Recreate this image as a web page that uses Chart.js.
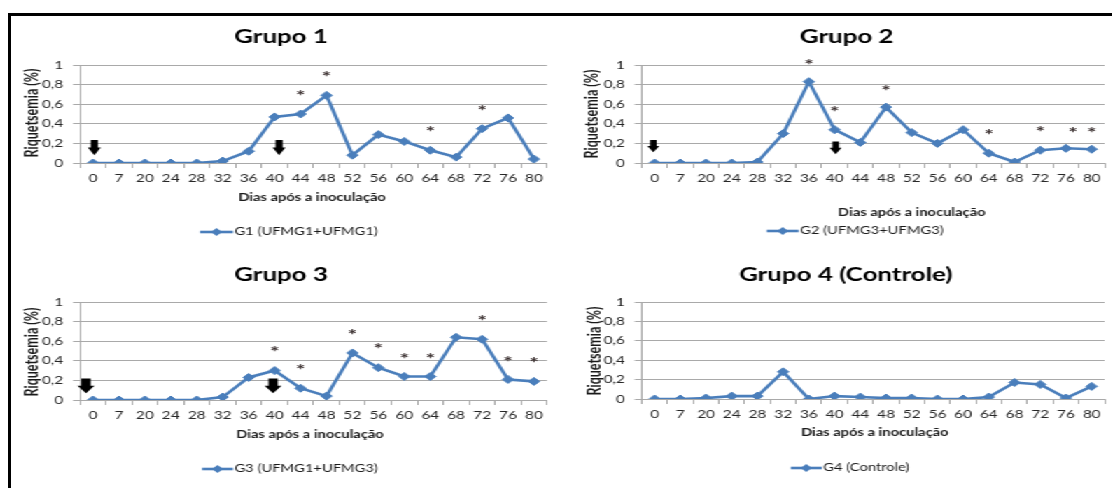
<!DOCTYPE html>
<html>
<head>
<meta charset="utf-8">
<script src="https://cdn.jsdelivr.net/npm/chart.js@4.4.1/dist/chart.umd.min.js"></script>
<style>
  html, body { margin: 0; padding: 0; background: #fff; }
  #page { position: relative; width: 1112px; height: 488px; overflow: hidden; background: #fff; }
  #frame { position: absolute; left: 8px; top: 13px; width: 1120px; height: 490px;
           border-top: 3px solid #000; border-left: 3px solid #000; }
  /* the figure is laid out narrow and widened horizontally as a whole */
  #stage { position: absolute; left: 0; top: 0; height: 488px; transform-origin: 0 0; }
  canvas { position: absolute; }
</style>
</head>
<body>
<div id="page">
  <div id="frame"></div>
  <div id="stage">
    <canvas id="p1"></canvas>
    <canvas id="p2"></canvas>
    <canvas id="p3"></canvas>
    <canvas id="p4"></canvas>
  </div>
</div>
<script>
// Days after inoculation (category axis)
const days = ['0','7','20','24','28','32','36','40','44','48','52','56','60','64','68','72','76','80'];

// Rickettsemia (%) per group
const g1 = [0, 0, 0, 0, 0, 0.02, 0.12, 0.47, 0.50, 0.69, 0.08, 0.29, 0.22, 0.13, 0.06, 0.35, 0.46, 0.04];
const g2 = [0, 0, 0, 0, 0.01, 0.30, 0.83, 0.34, 0.21, 0.57, 0.31, 0.20, 0.34, 0.10, 0.01, 0.13, 0.15, 0.14];
const g3 = [0, 0, 0, 0, 0, 0.03, 0.23, 0.30, 0.12, 0.04, 0.48, 0.33, 0.24, 0.24, 0.64, 0.62, 0.21, 0.19];
const g4 = [0, 0, 0.01, 0.03, 0.03, 0.28, 0, 0.03, 0.02, 0.01, 0.01, 0, 0, 0.02, 0.17, 0.15, 0.01, 0.13];

const yTickLabels = ['0', '0,2', '0,4', '0,6', '0,8', '1'];

// Significance marks: [category index, level]
const g1Stars = [[8, 0.71], [9, 0.91], [13, 0.35], [15, 0.56]];
const g2Stars = [[6, 1.03], [7, 0.55], [9, 0.77], [13, 0.32], [15, 0.35], [16.27, 0.34], [17, 0.34]];
const g3Stars = [[7, 0.52], [8, 0.34], [10, 0.69], [11, 0.55], [12, 0.45], [13, 0.45], [15, 0.84], [16, 0.42], [17, 0.41]];
const g4Stars = [];

// Inoculation arrows: [category index, top level, tip level]
const g1Arrows = [[0.05, 0.235, 0.08], [7.17, 0.235, 0.08]];
const g2Arrows = [[-0.05, 0.235, 0.11], [7.04, 0.22, 0.09]];
const g3Arrows = [[-0.27, 0.22, 0.07], [6.94, 0.22, 0.07]];
const g4Arrows = [];

const S = 1.4;                 // horizontal widening of the whole figure
const PAGE_W = 1112, HALF_W = 556, HALF_H = 244;
const BLUE = '#4a7ebb';
const GRID = '#a9a9a9';
const TEXT = '#262626';
const FONT = 'Lato, "Open Sans", sans-serif';
Chart.defaults.font.family = FONT;

const stage = document.getElementById('stage');
stage.style.width = (PAGE_W / S) + 'px';
stage.style.transform = 'scaleX(' + S + ')';

// Draws titles, axis titles, legend, arrows and significance marks
const decor = {
  id: 'decor',
  afterDatasetsDraw(chart, args, o) {
    const ctx = chart.ctx, xs = chart.scales.x, ys = chart.scales.y;
    ctx.save();
    ctx.fillStyle = '#000';
    o.arrows.forEach(([i, top, tip]) => {
      const x = xs.getPixelForValue(i);
      const y0 = ys.getPixelForValue(top), y1 = ys.getPixelForValue(tip);
      const w = o.arrowWidth, sw = w * 0.55, hy = y1 - (y1 - y0) * 0.5;
      ctx.beginPath();
      ctx.moveTo(x - sw / 2, y0);
      ctx.lineTo(x + sw / 2, y0);
      ctx.lineTo(x + sw / 2, hy);
      ctx.lineTo(x + w / 2, hy);
      ctx.lineTo(x, y1);
      ctx.lineTo(x - w / 2, hy);
      ctx.lineTo(x - sw / 2, hy);
      ctx.closePath();
      ctx.fill();
    });
    ctx.fillStyle = '#3a2f2f';
    ctx.font = 'bold 16px ' + FONT;
    ctx.textAlign = 'center';
    ctx.textBaseline = 'alphabetic';
    o.stars.forEach(([i, v]) => {
      const x = xs.getPixelForValue(i), y = ys.getPixelForValue(v);
      const m = ctx.measureText('*');
      const off = (m.actualBoundingBoxAscent - m.actualBoundingBoxDescent) / 2;
      ctx.fillText('*', x, y + off);
    });
    ctx.restore();
  },
  afterDraw(chart, args, o) {
    const ctx = chart.ctx;
    ctx.save();
    ctx.fillStyle = '#000';
    ctx.textBaseline = 'middle';
    ctx.textAlign = 'center';
    ctx.font = 'bold 18.5px ' + FONT;
    ctx.fillText(o.title[0], o.title[1], o.title[2]);

    ctx.fillStyle = '#1a1a1a';
    ctx.font = 'bold 10.5px ' + FONT;
    ctx.fillText('Dias após a inoculação', o.xTitle[0], o.xTitle[1]);

    ctx.save();
    ctx.translate(o.yTitle[0], o.yTitle[1]);
    ctx.rotate(-Math.PI / 2);
    ctx.font = 'bold 12.5px ' + FONT;
    ctx.fillText('Riquetsemia (%)', 0, 0);
    ctx.restore();

    const L = o.legend;
    ctx.strokeStyle = BLUE;
    ctx.lineWidth = 2.6;
    ctx.beginPath();
    ctx.moveTo(L.x0, L.y);
    ctx.lineTo(L.x1, L.y);
    ctx.stroke();
    const cx = (L.x0 + L.x1) / 2, r = 4;
    ctx.fillStyle = BLUE;
    ctx.beginPath();
    ctx.moveTo(cx, L.y - r); ctx.lineTo(cx + r, L.y); ctx.lineTo(cx, L.y + r); ctx.lineTo(cx - r, L.y);
    ctx.closePath();
    ctx.fill();
    ctx.fillStyle = '#1a1a1a';
    ctx.textAlign = 'left';
    ctx.font = '10.5px ' + FONT;
    ctx.fillText(L.text, L.x1 + 1, L.y);
    ctx.restore();
  }
};

// p: placement in page pixels; converted here into the canvas's own units
function makePanel(id, values, p) {
  const ox = p.origin[0], oy = p.origin[1];
  const fx = x => (x - ox) / S, fy = y => y - oy;
  const W = Math.round(HALF_W / S), H = HALF_H, xh = 30;
  const cv = document.getElementById(id);
  cv.width = W; cv.height = H;
  cv.style.left = (ox / S) + 'px';
  cv.style.top = oy + 'px';
  const left = fx(p.area.left), right = fx(p.area.right);
  const opts = {
    title: [p.title[0], fx(p.title[1]), fy(p.title[2])],
    xTitle: [fx(p.xTitle[0]), fy(p.xTitle[1])],
    yTitle: [fx(p.yTitle[0]), fy(p.yTitle[1])],
    legend: { x0: fx(p.legend.x0), x1: fx(p.legend.x1), y: fy(p.legend.y), text: p.legend.text },
    stars: p.stars, arrows: p.arrows, arrowWidth: p.arrowWidth / S
  };
  return new Chart(cv, {
    type: 'line',
    data: {
      labels: days,
      datasets: [{
        label: p.legend.text,
        data: values,
        borderColor: BLUE,
        backgroundColor: BLUE,
        borderWidth: 2.6,
        pointStyle: 'rectRot',
        pointRadius: 4,
        pointBorderWidth: 1,
        tension: 0
      }]
    },
    options: {
      responsive: false,
      animation: false,
      devicePixelRatio: 1,
      layout: { padding: { left: 0, right: Math.max(0, W - right), top: fy(p.area.top),
                           bottom: H - fy(p.area.bottom) - xh } },
      scales: {
        x: {
          offset: true,
          grid: { offset: true, drawOnChartArea: false, drawTicks: true, tickLength: 5, color: GRID },
          border: { color: GRID, width: 1 },
          ticks: { font: { size: 11 }, color: TEXT, padding: 4, maxRotation: 0, autoSkip: false },
          afterFit(s) { s.height = xh; }
        },
        y: {
          min: 0, max: 1,
          grid: { color: GRID, tickLength: 5 },
          border: { color: GRID, width: 1 },
          ticks: { stepSize: 0.2, padding: 7, font: { size: 11 }, color: TEXT,
                   callback: (v, i) => yTickLabels[i] },
          afterFit(s) { s.width = left; }
        }
      },
      plugins: {
        legend: { display: false },
        tooltip: { enabled: false },
        decor: opts
      }
    },
    plugins: [decor]
  });
}

makePanel('p1', g1, {
  origin: [0, 0],
  area: { left: 80, right: 547, top: 65, bottom: 163 },
  title: ['Grupo 1', 281, 37], xTitle: [312, 198], yTitle: [32, 113],
  legend: { x0: 200, x1: 233, y: 232, text: 'G1 (UFMG1+UFMG1)' },
  stars: g1Stars, arrows: g1Arrows, arrowWidth: 13
});
makePanel('p2', g2, {
  origin: [HALF_W, 0],
  area: { left: 642, right: 1112, top: 65, bottom: 163 },
  title: ['Grupo 2', 847, 37], xTitle: [912, 213], yTitle: [593, 114],
  legend: { x0: 767, x1: 799, y: 231, text: 'G2 (UFMG3+UFMG3)' },
  stars: g2Stars, arrows: g2Arrows, arrowWidth: 12
});
makePanel('p3', g3, {
  origin: [0, HALF_H],
  area: { left: 80, right: 547, top: 302, bottom: 400 },
  title: ['Grupo 3', 281, 275], xTitle: [310, 435], yTitle: [32, 352],
  legend: { x0: 202, x1: 233, y: 469, text: 'G3 (UFMG1+UFMG3)' },
  stars: g3Stars, arrows: g3Arrows, arrowWidth: 17
});
makePanel('p4', g4, {
  origin: [HALF_W, HALF_H],
  area: { left: 642, right: 1112, top: 302, bottom: 399 },
  title: ['Grupo 4 (Controle)', 846, 275], xTitle: [875, 433], yTitle: [595, 351],
  legend: { x0: 791, x1: 822, y: 468, text: 'G4 (Controle)' },
  stars: g4Stars, arrows: g4Arrows, arrowWidth: 12
});
</script>
</body>
</html>
